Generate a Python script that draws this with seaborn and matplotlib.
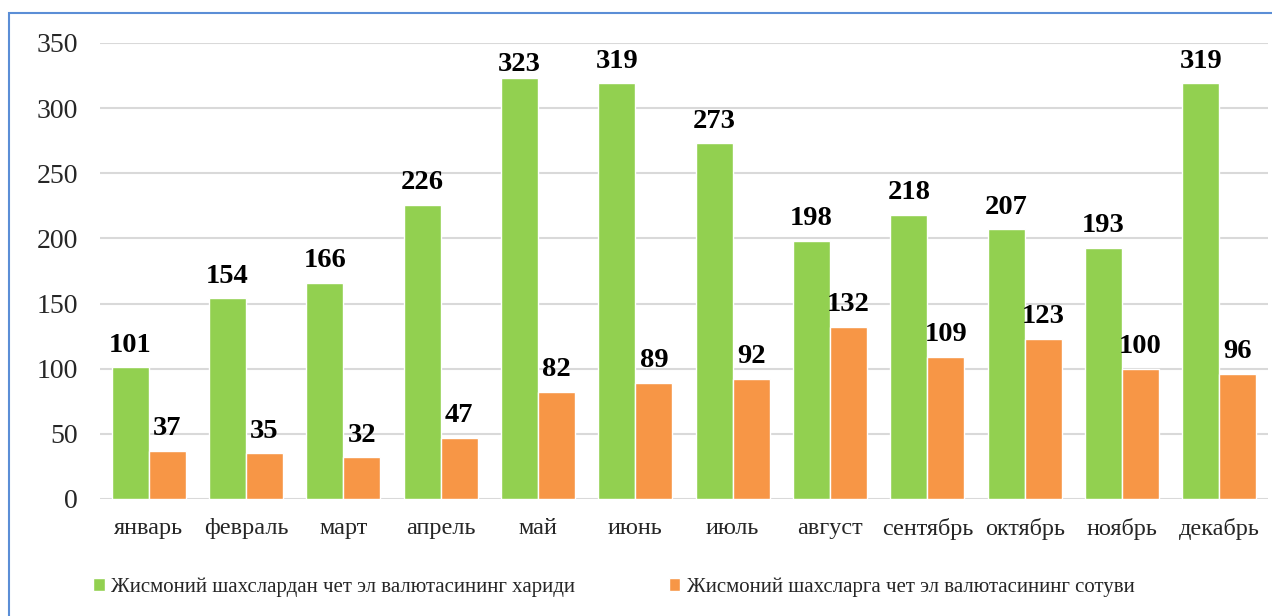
import matplotlib
matplotlib.use("Agg")
import matplotlib.pyplot as plt
import matplotlib.patches as mpatches
import seaborn as sns
import pandas as pd

months = ["январь", "февраль", "март", "апрель", "май", "июнь", "июль",
          "август", "сентябрь", "октябрь", "ноябрь", "декабрь"]
purchase = [101, 154, 166, 226, 323, 319, 273, 198, 218, 207, 193, 319]
sale = [37, 35, 32, 47, 82, 89, 92, 132, 109, 123, 100, 96]
series_names = ["Жисмоний шахслардан чет эл валютасининг хариди",
                "Жисмоний шахсларга чет эл валютасининг сотуви"]
colors = ["#92D050", "#F79646"]

df = pd.DataFrame({
    "month": months * 2,
    "value": purchase + sale,
    "series": [series_names[0]] * len(months) + [series_names[1]] * len(months),
})

sns.set_theme(style="white")
plt.rcParams["font.family"] = ["Liberation Serif", "DejaVu Serif"]

YMAX = 350
AX_H_PX = 456

fig = plt.figure(figsize=(12.72, 6.16), dpi=100)
ax = fig.add_axes([100 / 1272, 1 - 499 / 616, 1168 / 1272, AX_H_PX / 616])

sns.barplot(data=df, x="month", y="value", hue="series", palette=colors,
            width=0.76, saturation=1, ax=ax, legend=True)

for container, values in zip(ax.containers, [purchase, sale]):
    anns = ax.bar_label(container, fmt="%d", padding=7,
                        fontsize=20.5, fontweight="bold", color="black")
    # keep labels inside the plot area: tall bars get a tighter offset
    for ann, v in zip(anns, values):
        headroom_px = (YMAX - v) * AX_H_PX / YMAX
        if headroom_px < 38:
            ann.xyann = (0, 1.2)

ax.set_ylim(0, YMAX)
ax.set_yticks(range(0, YMAX + 1, 50))
ax.set_xlim(-0.5, 11.5)
ax.yaxis.grid(True, color="#D9D9D9", linewidth=1.5)
ax.set_axisbelow(True)
for s in ax.spines.values():
    s.set_visible(False)
ax.set_xlabel("")
ax.set_ylabel("")
ax.tick_params(axis="y", labelsize=20, pad=16, length=0)
ax.tick_params(axis="x", labelsize=17.5, pad=14, length=0)

handles, labels = ax.get_legend_handles_labels()
ax.legend(handles, labels, loc="center", bbox_to_anchor=(0.44, -0.193),
          ncol=2, frameon=False, fontsize=15, handlelength=0.55,
          handleheight=0.55, handletextpad=0.3, columnspacing=4.5)

# outer frame of the chart area
fig.patches.append(mpatches.Rectangle((9 / 1272, -0.1), 1.2, 1 - 13 / 616 + 0.1,
                                      transform=fig.transFigure, fill=False,
                                      edgecolor="#5B8ED6", linewidth=1.5))

fig.savefig("out.png", dpi=100)
